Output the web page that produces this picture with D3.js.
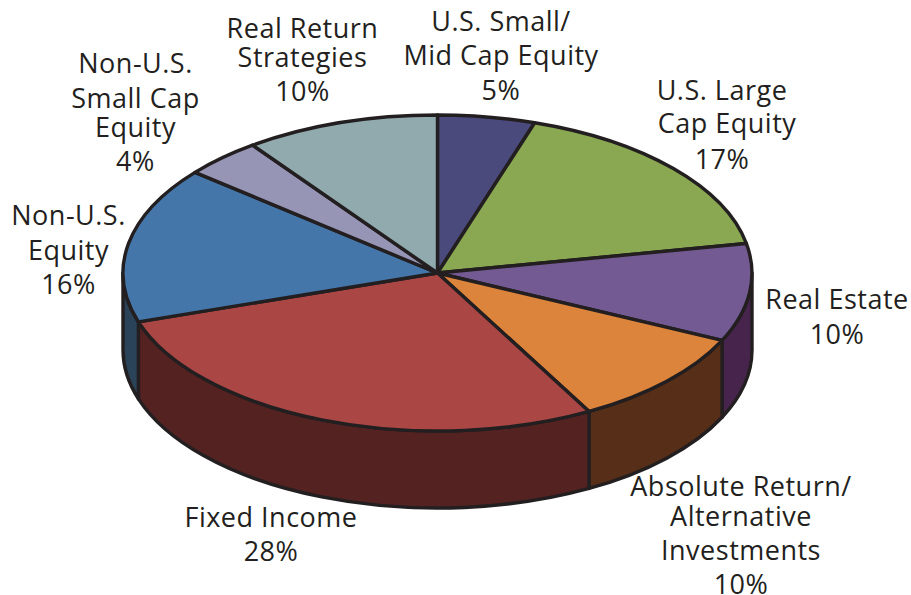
<!DOCTYPE html>
<html>
<head>
<meta charset="utf-8">
<style>
html,body{margin:0;padding:0;background:#fff;overflow:hidden;}
svg{display:block;}
text{font-family:"Open Sans",sans-serif;fill:#231f20;}
</style>
<script src="https://cdn.jsdelivr.net/npm/d3@7/dist/d3.min.js"></script>
</head>
<body>
<svg id="chart" width="911" height="595"></svg>
<script>
const categories = ["U.S. Small/Mid Cap Equity","U.S. Large Cap Equity","Real Estate","Absolute Return/Alternative Investments","Fixed Income","Non-U.S. Equity","Non-U.S. Small Cap Equity","Real Return Strategies"];
const values = [5,17,10,10,28,16,4,10];
const topColors = ["#4b4a7d","#8aa851","#735a92","#dd843c","#aa4745","#4576aa","#9695b5","#91aaae"];
const sideColors = ["#2b2b4a","#4c5e2c","#47244b","#572e17","#552222","#2b4358","#55546a","#55666a"];
const labelLines = [
  ["U.S. Small/","Mid Cap Equity"],
  ["U.S. Large","Cap Equity"],
  ["Real Estate"],
  ["Absolute Return/","Alternative","Investments"],
  ["Fixed Income"],
  ["Non-U.S.","Equity"],
  ["Non-U.S.","Small Cap","Equity"],
  ["Real Return","Strategies"]
];
const labelX = [
  [501,501,501],
  [722,727,722],
  [837,837],
  [741,741,741,741],
  [271,271],
  [68.5,68.5,68.5],
  [135.5,135.5,135.5,135.5],
  [302.5,302.5,302.5]
];
const labelBaselines = [
  [31,65,100],
  [100,133,169],
  [309,344],
  [496,526,560,594],
  [527,561],
  [225,260,294],
  [73,108,137,171],
  [38,67,101]
];

const cx = 437.5, cy = 273, rx = 314.5, ry = 158, depth = 77;
const ink = "#231f20", strokeW = 3.4;
const svg = d3.select("#chart");
const pie = d3.pie().sort(null).value(d => d)(values);
const xAt = a => cx + rx * Math.sin(a);
const yAt = a => cy - ry * Math.cos(a);

// side walls: only the part of each slice on the front half
const walls = svg.append("g");
pie.forEach((s, i) => {
  const a0 = Math.max(s.startAngle, Math.PI / 2);
  const a1 = Math.min(s.endAngle, 3 * Math.PI / 2);
  if (a1 <= a0) return;
  const arcCmd = (a, sweep) => `A${rx},${ry} 0 0 ${sweep} ${xAt(a)},`;
  const d = `M${xAt(a0)},${yAt(a0)}` +
    arcCmd(a1, 1) + `${yAt(a1)}` +
    `L${xAt(a1)},${yAt(a1) + depth}` +
    arcCmd(a0, 0) + `${yAt(a0) + depth}Z`;
  walls.append("path").attr("d", d)
    .attr("fill", sideColors[i]).attr("stroke", ink)
    .attr("stroke-width", strokeW).attr("stroke-linejoin", "round");
});

// top face
const arc = d3.arc().innerRadius(0).outerRadius(1);
svg.append("g")
  .attr("transform", `translate(${cx},${cy}) scale(${rx},${ry})`)
  .selectAll("path").data(pie).join("path")
  .attr("d", arc)
  .attr("fill", (d, i) => topColors[i])
  .attr("stroke", ink).attr("stroke-width", strokeW)
  .attr("stroke-linejoin", "round")
  .attr("vector-effect", "non-scaling-stroke");

// labels
const labels = svg.append("g").attr("font-size", 27).attr("letter-spacing", 0.5).attr("text-anchor", "middle");
categories.forEach((c, i) => {
  const lines = labelLines[i].concat(values[i] + "%");
  const t = labels.append("text");
  lines.forEach((l, j) => {
    t.append("tspan").attr("x", labelX[i][j]).attr("y", labelBaselines[i][j]).text(l);
  });
});
</script>
</body>
</html>
